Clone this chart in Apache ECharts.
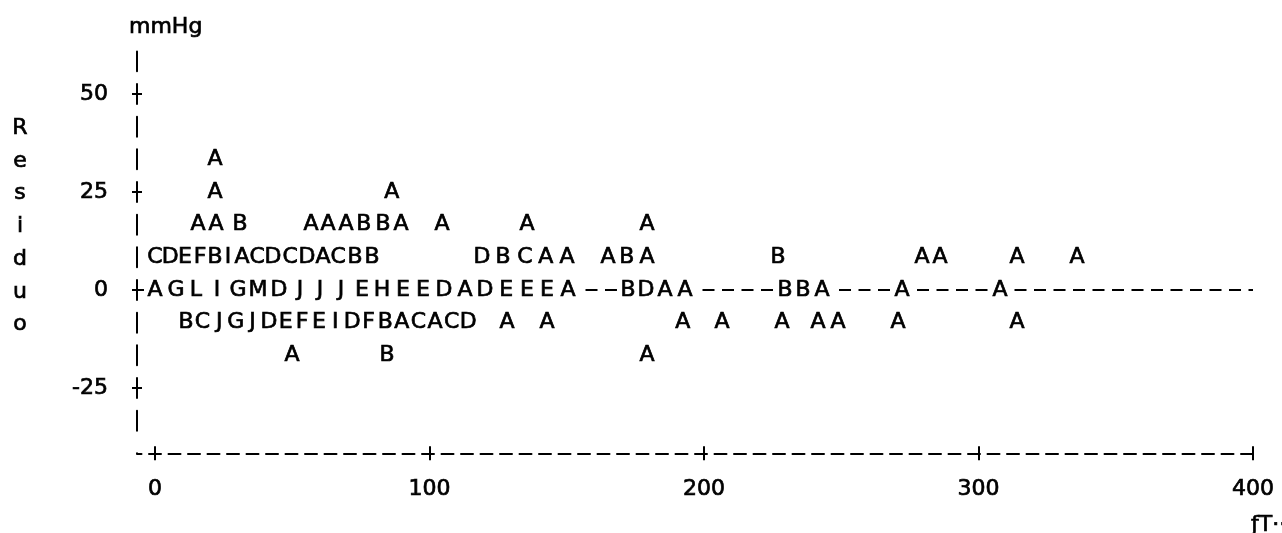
<!DOCTYPE html>
<html>
<head>
<meta charset="utf-8">
<script src="https://cdn.jsdelivr.net/npm/echarts@6/dist/echarts.min.js"></script>
<style>
html,body{margin:0;padding:0;background:#fff;}
#chart{width:1282px;height:533px;}
</style>
</head>
<body>
<div id="chart"></div>
<script>
// Row levels (mmHg) of the printer-plot lines that hold points
const rowLevels = [33.33, 25, 16.67, 8.33, 0, -8.33, -16.67];

// x positions (time) and plotting letters (A = 1 obs, B = 2, ...) per row
const row33x = [21.9];
const row33c = ['A'];
const row25x = [21.9, 86.3];
const row25c = ['A', 'A'];
const row17x = [15.7, 22.2, 31.0, 56.8, 63.0, 69.6, 76.1, 83.1, 89.6, 104.6, 135.5, 179.2];
const row17c = ['A','A','B','A','A','A','B','B','A','A','A','A'];
const row8x = [0, 5.5, 10.9, 16.4, 21.9, 26.6, 31.7, 37.2, 43.0, 49.2, 55.4, 61.2, 66.7, 72.9, 79.1,
               119.1, 126.8, 134.8, 142.4, 150.1, 165.0, 171.9, 179.2, 227.0, 279.4, 286.0, 314.0, 335.9];
const row8c = ['C','D','E','F','B','I','A','C','D','C','D','A','C','B','B',
               'D','B','C','A','A','A','B','A','B','A','A','A','A'];
const row0x = [0, 7.7, 14.9, 22.6, 30.2, 37.5, 45.2, 52.8, 60.1, 67.8, 75.4, 82.7, 90.3, 97.6, 105.3,
               112.9, 120.2, 127.9, 135.5, 142.8, 150.5, 172.3, 178.9, 185.8, 193.1, 229.5, 236.1, 243.0, 272.1, 307.8];
const row0c = ['A','G','L','I','G','M','D','J','J','J','E','H','E','E','D',
               'A','D','E','E','E','A','B','D','A','A','B','B','A','A','A'];
const rowm8x = [11.3, 17.3, 23.4, 29.4, 35.5, 41.5, 47.6, 53.6, 59.7, 65.7, 71.8, 77.8, 83.9, 89.9, 96.0,
                102.0, 108.1, 114.1, 128.2, 142.8, 192.3, 206.6, 228.4, 241.5, 248.8, 270.7, 314.0];
const rowm8c = ['B','C','J','G','J','D','E','F','E','I','D','F','B','A','C',
                'A','C','D','A','A','A','A','A','A','A','A','A'];
const rowm17x = [49.9, 84.5, 179.2];
const rowm17c = ['A', 'B', 'A'];

const yTicks = [-25, 0, 25, 50];
const xTicks = [0, 100, 200, 300, 400];
const yTitle = 'Residuo';
const yUnit = 'mmHg';
const xTitle = 'ƒT··';

const rowsX = [row33x, row25x, row17x, row8x, row0x, rowm8x, rowm17x];
const rowsC = [row33c, row25c, row17c, row8c, row0c, rowm8c, rowm17c];
const points = [];
rowsX.forEach(function (xs, r) {
  xs.forEach(function (x, i) {
    points.push({ value: [x, rowLevels[r]], letter: rowsC[r][i] });
  });
});
// points sitting on the zero reference line (they blank it out, as on the printout)
const zeroPoints = points.filter(function (p) { return p.value[1] === 0; });

const FONT = 'DejaVu Sans';
const INK = '#000';
const FS = 22;
const txt = { fontFamily: FONT, fontSize: FS, color: INK, textBorderColor: INK, textBorderWidth: 0.7 };

// vertical axis drawn as printer '|' characters: gap at the corner row, then bar / gap per text row
const vDash = [0, 22.67];
for (let i = 0; i < 13; i++) { vDash.push(20, 12.67); }

const chart = echarts.init(document.getElementById('chart'), null, { renderer: 'canvas' });
chart.setOption({
  backgroundColor: '#fff',
  animation: false,
  title: [
    {
      text: yTitle.split('').join('\n'),
      left: 15, top: 107, textAlign: 'center',
      textStyle: Object.assign({}, txt, { fontWeight: 'normal', lineHeight: 32.7 })
    },
    {
      text: xTitle,
      left: 1246, top: 509,
      textStyle: Object.assign({}, txt, { fontWeight: 'normal' })
    }
  ],
  grid: { left: 137, right: 29, top: 51.5, bottom: 79.65, containLabel: false },
  xAxis: [
    {
      type: 'value', min: -6.56, max: 400,
      axisLine: { show: true, onZero: false, lineStyle: { color: INK, width: 2, type: [12, 7.5], dashOffset: 7.5 } },
      axisTick: { show: true, customValues: xTicks, length: 7, lineStyle: { color: INK, width: 2 } },
      axisLabel: Object.assign({ customValues: xTicks, margin: 25 }, txt),
      splitLine: { show: false }
    },
    {
      type: 'value', min: -6.56, max: 400, position: 'bottom',
      axisLine: { show: false, onZero: false },
      axisTick: { show: true, inside: true, customValues: xTicks, length: 7, lineStyle: { color: INK, width: 2 } },
      axisLabel: { show: false },
      splitLine: { show: false }
    }
  ],
  yAxis: [
    {
      type: 'value', min: -41.67, max: 60.84,
      name: yUnit, nameLocation: 'end', nameGap: 13,
      nameTextStyle: Object.assign({ align: 'left', padding: [0, 0, 0, -8] }, txt),
      axisLine: { show: true, onZero: false, lineStyle: { color: INK, width: 2, type: vDash } },
      axisTick: { show: true, customValues: yTicks, length: 5, lineStyle: { color: INK, width: 2 } },
      axisLabel: Object.assign({ customValues: yTicks, margin: 29 }, txt),
      splitLine: { show: false }
    },
    {
      type: 'value', min: -41.67, max: 60.84, position: 'left',
      axisLine: { show: false, onZero: false },
      axisTick: { show: true, inside: true, customValues: yTicks, length: 5, lineStyle: { color: INK, width: 2 } },
      axisLabel: { show: false },
      splitLine: { show: false }
    }
  ],
  series: [
    {
      // blanks under the letters on the zero row, plus the zero reference line
      type: 'scatter',
      name: 'blank',
      symbolSize: 0,
      itemStyle: { color: '#fff', opacity: 1 },
      data: zeroPoints,
      label: {
        show: true, position: 'inside',
        formatter: function (p) { return p.data.letter; },
        fontFamily: FONT, fontSize: FS, color: '#fff',
        backgroundColor: '#fff', width: 16, align: 'center', padding: [2, 3]
      },
      emphasis: { disabled: true },
      markLine: {
        silent: true, symbol: 'none',
        label: { show: false },
        lineStyle: { color: INK, width: 2, type: [12, 7.5] },
        data: [{ yAxis: 0 }],
        z: 1
      },
      z: 3
    },
    {
      type: 'scatter',
      name: 'letters',
      symbolSize: 0,
      itemStyle: { color: INK, opacity: 1 },
      data: points,
      label: Object.assign({
        show: true, position: 'inside',
        formatter: function (p) { return p.data.letter; }
      }, txt),
      emphasis: { disabled: true },
      z: 5
    }
  ]
});
</script>
</body>
</html>
